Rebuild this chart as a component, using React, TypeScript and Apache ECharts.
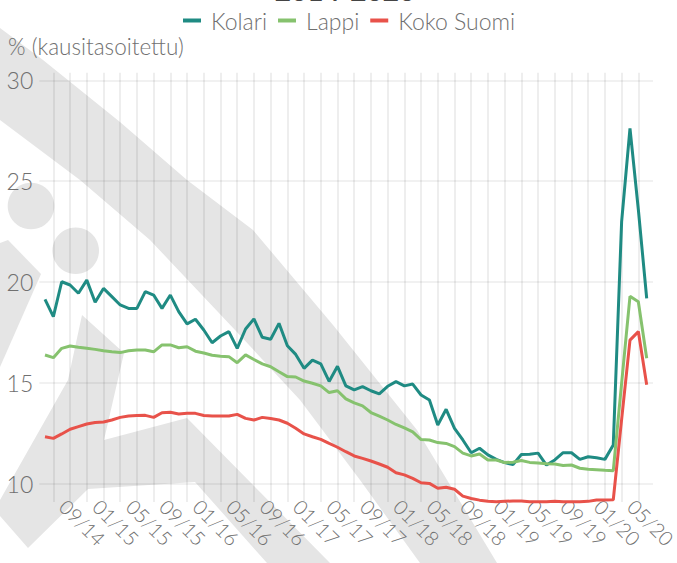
import React, { useEffect, useRef } from "react";
import * as echarts from "echarts";

// Monthly categories (MM/YY)
const CATEGORIES: string[] = [
  "08/14", "09/14", "10/14", "11/14", "12/14",
  "01/15", "02/15", "03/15", "04/15", "05/15", "06/15", "07/15", "08/15", "09/15", "10/15", "11/15", "12/15",
  "01/16", "02/16", "03/16", "04/16", "05/16", "06/16", "07/16", "08/16", "09/16", "10/16", "11/16", "12/16",
  "01/17", "02/17", "03/17", "04/17", "05/17", "06/17", "07/17", "08/17", "09/17", "10/17", "11/17", "12/17",
  "01/18", "02/18", "03/18", "04/18", "05/18", "06/18", "07/18", "08/18", "09/18", "10/18", "11/18", "12/18",
  "01/19", "02/19", "03/19", "04/19", "05/19", "06/19", "07/19", "08/19", "09/19", "10/19", "11/19", "12/19",
  "01/20", "02/20", "03/20", "04/20", "05/20", "06/20", "07/20", "08/20",
];

const KOLARI: number[] = [
  19.15, 18.29, 20.02, 19.86, 19.45, 20.1, 19.0, 19.69, 19.28, 18.87, 18.7, 18.7, 19.53, 19.36, 18.7, 19.36, 18.54,
  17.93, 18.16, 17.63, 17.0, 17.33, 17.55, 16.72, 17.68, 18.18, 17.27, 17.17, 17.96, 16.85, 16.42, 15.73, 16.14,
  15.95, 15.08, 15.83, 14.86, 14.66, 14.82, 14.62, 14.46, 14.84, 15.07, 14.86, 14.95, 14.41, 14.16, 12.92, 13.7,
  12.76, 12.18, 11.55, 11.77, 11.44, 11.22, 11.06, 10.96, 11.46, 11.47, 11.53, 10.94, 11.19, 11.55, 11.55, 11.22,
  11.35, 11.3, 11.22, 11.93, 23.0, 27.62, 23.6, 19.2,
];

const LAPPI: number[] = [
  16.39, 16.26, 16.72, 16.84, 16.77, 16.72, 16.67, 16.6, 16.55, 16.51, 16.6, 16.64, 16.64, 16.55, 16.89, 16.89, 16.75,
  16.8, 16.58, 16.49, 16.38, 16.33, 16.31, 16.01, 16.4, 16.17, 15.95, 15.81, 15.56, 15.32, 15.3, 15.1, 14.99,
  14.86, 14.53, 14.62, 14.22, 14.02, 13.87, 13.54, 13.36, 13.17, 12.95, 12.78, 12.58, 12.2, 12.18, 12.05, 12.01,
  11.85, 11.53, 11.39, 11.49, 11.19, 11.19, 11.06, 11.08, 11.16, 11.07, 11.04, 11.0, 10.99, 10.92, 10.94, 10.78,
  10.73, 10.71, 10.68, 10.66, 15.0, 19.3, 19.03, 16.23,
];

const KOKO_SUOMI: number[] = [
  12.34, 12.26, 12.48, 12.71, 12.84, 12.97, 13.05, 13.07, 13.17, 13.3, 13.37, 13.39, 13.4, 13.3, 13.53, 13.55, 13.47,
  13.5, 13.5, 13.39, 13.37, 13.37, 13.37, 13.45, 13.25, 13.17, 13.3, 13.24, 13.17, 13.01, 12.76, 12.48, 12.34,
  12.21, 12.01, 11.82, 11.6, 11.39, 11.27, 11.14, 10.99, 10.83, 10.56, 10.45, 10.28, 10.06, 10.03, 9.79, 9.84,
  9.74, 9.4, 9.28, 9.2, 9.15, 9.12, 9.14, 9.16, 9.16, 9.12, 9.12, 9.12, 9.14, 9.12, 9.12, 9.12,
  9.14, 9.21, 9.21, 9.22, 13.2, 17.13, 17.55, 14.92,
];

const SERIES_NAMES = ["Kolari", "Lappi", "Koko Suomi"];
const SERIES_COLORS = ["#1f8b83", "#86c26e", "#e8524a"];
const Y_TICK_MIN = 10;
const Y_TICK_MAX = 30;
const Y_TICK_STEP = 5;

const FONT = 'Lato, "Open Sans", "Noto Sans", sans-serif';
const TEXT = "#707070";
const WM = "#e5e5e5";

// Background watermark shapes (decoration)
const BAND_A = [
  [0, 28], [43, 60], [120, 122], [187, 180], [253, 230], [333, 325], [417, 430], [497, 563],
  [420, 563], [360, 480], [300, 400], [235, 330], [150, 240], [80, 180], [0, 120],
];
const SHAPE_C = [[0, 243], [8, 240], [41, 274], [0, 367]];
const SHAPE_D = [
  [82, 315], [124, 353], [104, 440], [187, 418], [330, 563], [267, 563], [195, 482], [88, 489],
  [28, 548], [0, 516], [0, 500], [68, 380],
];

export default function App() {
  const ref = useRef<HTMLDivElement>(null);

  useEffect(() => {
    if (!ref.current) return;
    const chart = echarts.init(ref.current, null, { renderer: "svg" });
    const datasets = [KOLARI, LAPPI, KOKO_SUOMI];

    const option: any = {
      animation: false,
      backgroundColor: "#ffffff",
      textStyle: { fontFamily: FONT },
      legend: {
        left: 178,
        top: 4,
        icon: "rect",
        itemWidth: 18,
        itemHeight: 4,
        itemGap: 11,
        data: SERIES_NAMES,
        textStyle: {
          fontFamily: FONT,
          fontSize: 23,
          fontWeight: 300,
          color: TEXT,
          padding: [0, 0, 0, 5],
        },
      },
      grid: [
        { left: 45, right: 30.3, top: 72.7, bottom: 61, containLabel: false, outerBoundsMode: "none" },
        { left: 39.3, right: 24, top: 80.3, bottom: 79, containLabel: false, outerBoundsMode: "none" },
      ],
      xAxis: [
        {
          gridIndex: 0,
          type: "category",
          data: CATEGORIES,
          boundaryGap: false,
          axisLine: { show: false },
          axisTick: { show: false },
          axisLabel: {
            interval: (i: number) => i % 4 === 1,
            rotate: -45,
            margin: -9,
            padding: [0, 0, 0, 14],
            fontSize: 20,
            fontWeight: 300,
            color: TEXT,
            fontFamily: FONT,
          },
          splitLine: {
            show: true,
            interval: (i: number) => i % 2 === 1,
            lineStyle: { color: "rgba(0,0,0,0.065)", width: 2 },
          },
        },
        { gridIndex: 1, type: "value", min: 0, max: 1, show: false },
      ],
      yAxis: [
        { gridIndex: 0, type: "value", min: 9.108, max: 30.377, show: false },
        {
          gridIndex: 1,
          type: "value",
          min: Y_TICK_MIN,
          max: Y_TICK_MAX,
          interval: Y_TICK_STEP,
          axisLine: { show: false },
          axisTick: { show: false },
          axisLabel: { margin: 6, fontSize: 23, fontWeight: 300, color: TEXT, fontFamily: FONT },
          splitLine: { show: true, lineStyle: { color: "rgba(0,0,0,0.055)", width: 2 } },
        },
      ],
      graphic: [
        { type: "polygon", z: -100, silent: true, shape: { points: BAND_A }, style: { fill: WM } },
        { type: "circle", z: -100, silent: true, shape: { cx: 31, cy: 206, r: 23.3 }, style: { fill: WM } },
        { type: "circle", z: -100, silent: true, shape: { cx: 75.7, cy: 250.7, r: 23.3 }, style: { fill: WM } },
        { type: "polygon", z: -100, silent: true, shape: { points: SHAPE_C }, style: { fill: WM } },
        { type: "polygon", z: -100, silent: true, shape: { points: SHAPE_D }, style: { fill: WM } },
        {
          type: "text",
          z: 10,
          silent: true,
          style: {
            text: "% (kausitasoitettu)",
            x: 8,
            y: 46,
            verticalAlign: "middle",
            fill: TEXT,
            fontSize: 22.5,
            fontWeight: 300,
            fontFamily: FONT,
          },
        },
        {
          type: "text",
          z: 10,
          silent: true,
          style: {
            text: "2014-2020",
            x: 345,
            y: -10,
            align: "center",
            verticalAlign: "middle",
            fill: "#444444",
            fontSize: 28,
            fontWeight: "bold",
            fontFamily: FONT,
          },
        },
      ],
      series: SERIES_NAMES.map((name, k) => ({
        name,
        type: "line",
        xAxisIndex: 0,
        yAxisIndex: 0,
        data: datasets[k],
        symbol: "none",
        showSymbol: false,
        clip: false,
        lineStyle: { width: 3, color: SERIES_COLORS[k] },
        itemStyle: { color: SERIES_COLORS[k] },
      })),
    };

    chart.setOption(option);
    return () => chart.dispose();
  }, []);

  return (
    <div
      ref={ref}
      style={{ position: "fixed", left: 0, top: 0, width: 677, height: 563, background: "#fff" }}
    />
  );
}
